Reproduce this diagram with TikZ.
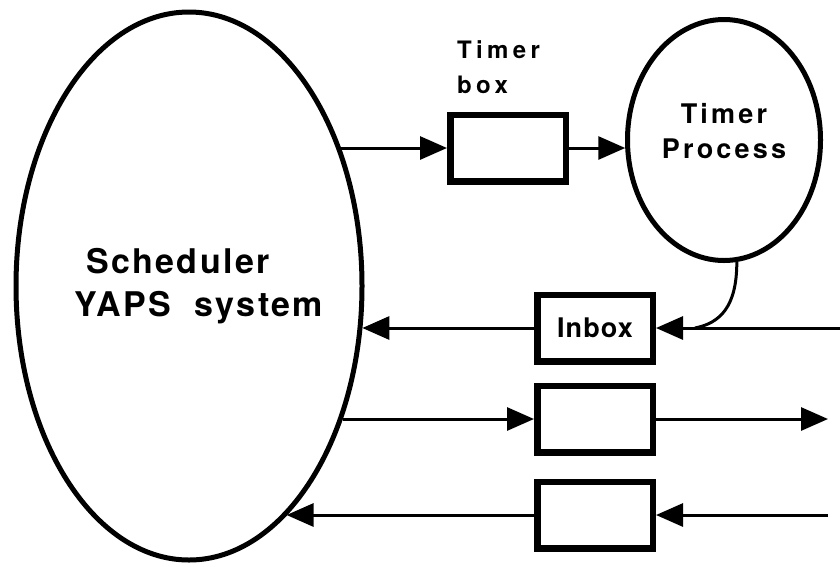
\documentclass[tikz,border=0pt]{standalone}
\usepackage{fontspec}
\setmainfont{TeX Gyre Heros}
\newfontfamily\bigfont[LetterSpace=7]{TeX Gyre Heros}
\newfontfamily\widefont[LetterSpace=18]{TeX Gyre Heros}
\newfontfamily\procfont[LetterSpace=12]{TeX Gyre Heros}
\newfontfamily\boxfont[LetterSpace=4]{TeX Gyre Heros}
\usepackage{tikz}
\usetikzlibrary{calc, arrows.meta, shapes.geometric}

\tikzset{
  proc/.style={draw, ellipse, line width=5pt, inner sep=0pt},
  mbox/.style={draw, rectangle, line width=6.5pt, minimum width=115.5pt, minimum height=66.5pt, inner sep=0pt},
  conn/.style={line width=3pt, -{Triangle[length=27pt,width=23pt]}},
  plain/.style={line width=3pt},
  bigtxt/.style={inner sep=0pt, font=\bigfont\bfseries\fontsize{34}{40}\selectfont},
  widetxt/.style={inner sep=0pt, font=\widefont\bfseries\fontsize{24}{28}\selectfont},
  proctxt/.style={inner sep=0pt, font=\procfont\bfseries\fontsize{27}{30}\selectfont},
}

\begin{document}
\begin{tikzpicture}[x=1pt, y=-1pt]
\useasboundingbox (0,0) rectangle (840,566);
% the two processes
\node [proc, minimum width=346pt, minimum height=548pt] (sched) at (189,286) {};
\node [proc, minimum width=193pt, minimum height=241pt] (tproc) at (724,140) {};
\node [bigtxt, anchor=base west] (schedA) at (86,273) {Scheduler};
\node [bigtxt, anchor=base west] (schedB) at (74,316) {YAPS\ \ system};
\node [proctxt, anchor=base] (tprocA) at (724,123) {Timer};
\node [proctxt, anchor=base] (tprocB) at (724,158) {Process};
% mail boxes
\node [mbox] (tbox) at (508,148) {};
\node [widetxt, anchor=base west] (tboxA) at (457,58) {Timer};
\node [widetxt, anchor=base west] (tboxB) at (457,93) {box};
\node [mbox, font=\boxfont\bfseries\fontsize{27}{30}\selectfont] (inbox) at (595,328) {Inbox};
\node [mbox] (obox) at (595,419) {};
\node [mbox] (ibox) at (595,515) {};
% free ends
\coordinate (inR) at (840,328);
\coordinate (outR) at (828,419);
\coordinate (backR) at (828,515);
\coordinate (join) at (695,328);
% connectors
\draw [conn] (tbox.west -| sched.42) -- (tbox.west);
\draw [conn] (tbox.east) -- (tbox.east -| tproc.185);
\draw [conn] (inR) -- (inbox.east);
\draw [conn] (inbox.west) -- (inbox.west -| sched.-14);
\draw [conn] (obox.west -| sched.-41) -- (obox.west);
\draw [conn] (obox.east) -- (outR);
\draw [conn] (backR) -- (ibox.east);
\draw [conn] (ibox.west) -- (ibox.west -| sched.-67);
\draw [plain] (tproc.-84) .. controls +(0,45) and +(25,-5) .. (join);
\end{tikzpicture}
\end{document}
